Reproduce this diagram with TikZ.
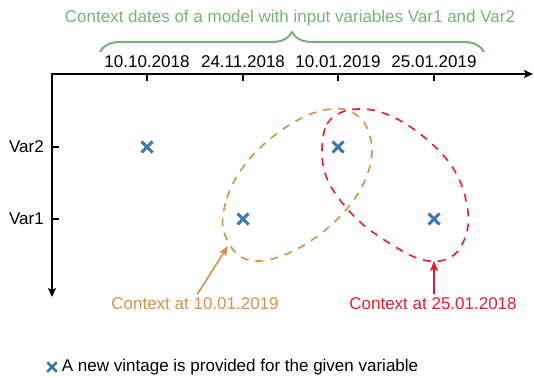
\documentclass[tikz,border=0pt]{standalone}
\usepackage{fontspec}
\setmainfont{Liberation Sans}
\usepackage{xcolor}
\usepackage{tikz}
\usetikzlibrary{shapes.misc, arrows.meta, positioning, decorations.pathreplacing}
\definecolor{ctxgreen}{RGB}{122,176,122}
\definecolor{ctxorange}{RGB}{212,146,72}
\definecolor{ctxred}{RGB}{228,30,50}
\definecolor{vintblue}{RGB}{56,118,172}
\tikzstyle{axis}     = [line width=2pt, {Stealth[length=9pt,width=8pt,inset=2pt]}-{Stealth[length=9pt,width=8pt,inset=2pt]}]
\tikzstyle{tickmark} = [line width=2pt]
\tikzstyle{lbl}      = [font=\fontsize{17}{20}\selectfont, inner sep=0pt]
\tikzstyle{vintage}  = [cross out, draw=vintblue, line width=3pt,
                        minimum size=8pt, inner sep=0pt]
\tikzstyle{context}  = [line width=1.6pt, dash pattern=on 8pt off 7pt]
\tikzstyle{pointer}  = [line width=1.6pt, -{Stealth[length=10pt,width=8pt,inset=2pt]}]

\begin{document}
\begin{tikzpicture}[x=1pt, y=-1pt]
  \useasboundingbox (0,0) rectangle (534,377);

  % Axes
  \coordinate (origin) at (52,74);
  \coordinate (xend) at (533,74);
  \coordinate (yend) at (52,297);
  \draw[axis] (xend) -- (origin) -- (yend);

  % Context dates
  \foreach \x/\d [count=\i] in {147/10.10.2018, 243/24.11.2018, 338/10.01.2019, 434/25.01.2019} {
    \draw[tickmark] (\x,74) -- (\x,81);
    \node[lbl] (date\i) at (\x,62) {\d};
  }

  % Variables
  \node[lbl, anchor=east] (var2) at (44,147) {Var2};
  \node[lbl, anchor=east] (var1) at (44,219) {Var1};
  \draw[tickmark] (52,147) -- (59,147);
  \draw[tickmark] (52,219) -- (59,219);

  % Title with brace
  \node[lbl, text=ctxgreen] (title) at (290,18)
        {Context dates of a model with input variables Var1 and Var2};
  \draw[ctxgreen, line width=2pt, decorate,
        decoration={brace, amplitude=20pt}] (100,52) -- (484,52);

  % Vintages
  \node[vintage] (v2a) at (147,147) {};
  \node[vintage] (v1a) at (243,219) {};
  \node[vintage] (v2b) at (338,147) {};
  \node[vintage] (v1b) at (434,219) {};

  % Contexts
  \draw[context, ctxorange] plot[smooth cycle, tension=0.6] coordinates
        {(223,228) (227,198) (241,170) (263,145) (291,124) (320,111) (347,110)
         (365,124) (372,150) (366,178) (350,205) (323,232) (291,252) (260,261) (237,254)};
  \draw[context, ctxred] plot[smooth cycle, tension=0.6] coordinates
        {(322,150) (327,124) (345,111) (372,110) (401,121) (431,143) (453,168)
         (465,196) (468,226) (458,251) (440,261) (417,258) (389,243) (360,222) (337,196) (325,173)};
  \coordinate (ctxAtip) at (228,246);
  \coordinate (ctxBtip) at (434,261);

  \node[lbl, text=ctxorange] (ctxAlbl) at (195,304) {Context at 10.01.2019};
  \draw[pointer, ctxorange, shorten <=4pt] (ctxAlbl.north) -- (ctxAtip);

  \node[lbl, text=ctxred] (ctxBlbl) at (433,304) {Context at 25.01.2018};
  \draw[pointer, ctxred, shorten <=4pt] (ctxBlbl.north -| ctxBtip) -- (ctxBtip);

  % Legend
  \node[vintage, line width=2.5pt, minimum size=7pt] (key) at (52,367) {};
  \node[lbl, right=5pt of key] (keytxt)
        {A new vintage is provided for the given variable};

\end{tikzpicture}
\end{document}
